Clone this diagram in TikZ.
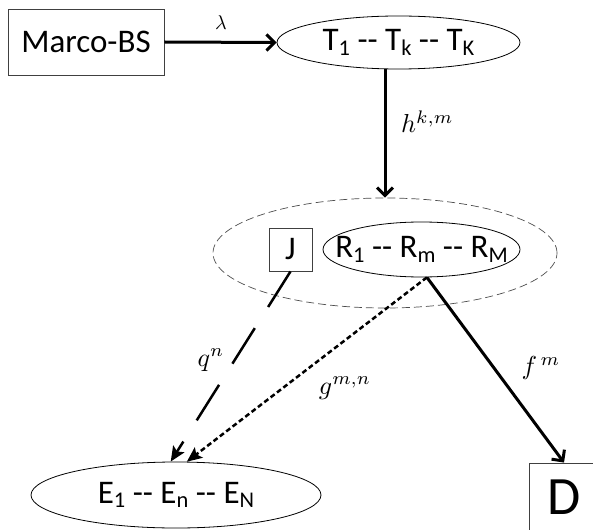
\documentclass[tikz,border=0pt]{standalone}
\usepackage{fontspec}
\setmainfont{Carlito}
\usetikzlibrary{shapes.geometric,arrows.meta,calc}
\newcommand\lsub[1]{\raisebox{-0.14em}{\scalebox{0.68}{#1}}}
\newcommand\bigmath[2]{\scalebox{#1}{$#2$}}
\tikzset{
  box/.style={draw=black!75, line width=0.9pt, rectangle, inner sep=0pt},
  ell/.style={draw=black, line width=0.8pt, ellipse, inner sep=0pt},
  bigell/.style={draw=black!70, line width=0.7pt, dash pattern=on 8pt off 4pt, ellipse, inner sep=0pt},
  lbl/.style={inner sep=0pt},
  nodefont/.style={font=\fontsize{33}{40}\selectfont},
  txt/.style={nodefont, inner sep=0pt},
  barbarrow/.style={line width=3pt, -{Straight Barb[length=8pt,width=16pt]}},
  longdasharrow/.style={line width=2.5pt, dash pattern=on 42pt off 25pt, -{Stealth[length=15pt,width=13pt,inset=3pt]}},
  dotarrow/.style={line width=2.5pt, dash pattern=on 5pt off 3pt, -{Stealth[length=15pt,width=13pt,inset=3pt]}},
}
\begin{document}
\begin{tikzpicture}[x=1pt,y=-1pt]
\useasboundingbox (0,0) rectangle (593,529);
\clip (0,0) rectangle (593,529);
% nodes
\node[box, nodefont, minimum width=156pt, minimum height=66pt] (mbs) at (86,42) {Marco-BS};
\node[ell, minimum width=243pt, minimum height=53pt] (T) at (398.5,42.5) {};
\node[txt] (Ttext) at (T.center) {T\lsub{1} -{}- T\lsub{k} -{}- T\lsub{K}};
\node[bigell, minimum width=344pt, minimum height=110pt] (big) at (385,253) {};
\node[box, nodefont, minimum width=43pt, minimum height=43pt] (J) at (290.5,249.5) {J};
\node[ell, minimum width=197pt, minimum height=55pt] (R) at (421.5,249.5) {};
\node[txt] (Rtext) at (R.center) {R\lsub{1} -{}- R\lsub{m} -{}- R\lsub{M}};
\node[ell, minimum width=290pt, minimum height=66pt] (E) at (176,495) {};
\node[txt] (Etext) at (E.center) {E\lsub{1} -{}- E\lsub{n} -{}- E\lsub{N}};
\node[box, font=\fontsize{54}{60}\selectfont, minimum width=70pt, minimum height=68pt] (D) at (564,497) {D};
\coordinate (r0) at (R.-79);
% connectors
\draw[barbarrow] (mbs.east) -- (T.west);
\draw[barbarrow] (T.south -| big.north) -- (big.north);
\draw[longdasharrow] (J.south) -- (E.99);
\draw[dotarrow] (r0) -- (E.72);
\draw[barbarrow] (r0) -- (D.north);
% labels
\node[lbl] (lam) at (221,23) {\bigmath{2}{\lambda}};
\node[lbl, anchor=base west] (h) at (401,133) {\bigmath{2.6}{h^{k,m}}};
\node[lbl] (q) at (211,360) {\bigmath{2.6}{q^{n}}};
\node[lbl] (g) at (345,388) {\bigmath{2.6}{g^{m,n}}};
\node[lbl] (f) at (541,368) {\bigmath{2.6}{f^{\,m}}};
\end{tikzpicture}
\end{document}
